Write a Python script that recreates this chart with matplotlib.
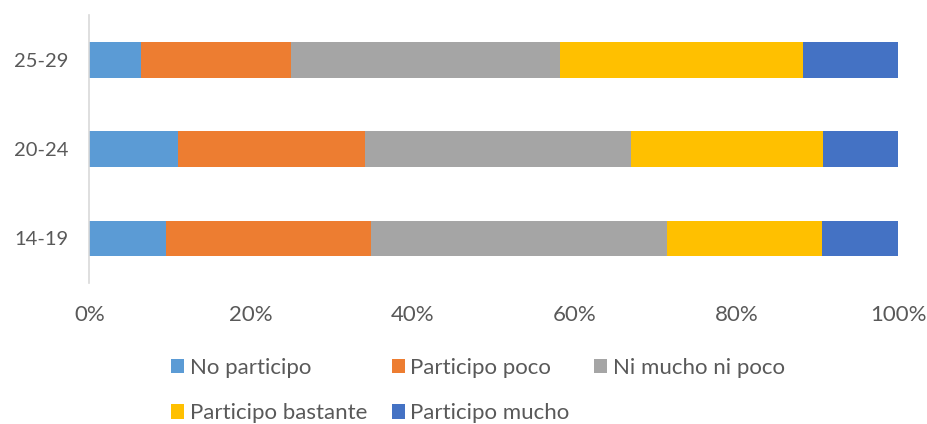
import matplotlib
matplotlib.use("Agg")
import matplotlib.pyplot as plt
import numpy as np
from matplotlib.patches import Patch

categories = ["14-19", "20-24", "25-29"]
series_names = ["No participo", "Participo poco", "Ni mucho ni poco",
                "Participo bastante", "Participo mucho"]
no_participo = [9.5, 10.9, 6.4]
participo_poco = [25.3, 23.2, 18.5]
ni_mucho_ni_poco = [36.6, 32.8, 33.3]
participo_bastante = [19.2, 23.8, 30.0]
participo_mucho = [9.4, 9.3, 11.8]
xticks = [0, 20, 40, 60, 80, 100]
xtick_labels = ["0%", "20%", "40%", "60%", "80%", "100%"]
colors = ["#5B9BD5", "#ED7D31", "#A5A5A5", "#FFC000", "#4472C4"]

plt.rcParams['font.family'] = ['Lato', 'DejaVu Sans']

fig = plt.figure(figsize=(9.28, 4.24), dpi=100)
ax = fig.add_axes([0.0964, 0.3325, 0.8718, 0.631])

data = [no_participo, participo_poco, ni_mucho_ni_poco, participo_bastante, participo_mucho]
y = np.arange(len(categories))
left = np.zeros(len(categories))
handles = []
for name, vals, c in zip(series_names, data, colors):
    ax.barh(y, vals, left=left, height=0.4, color=c, label=name)
    left += np.array(vals)
    handles.append(Patch(facecolor=c, label=name))

ax.set_xlim(0, 100)
ax.set_ylim(-0.5, 2.5)
ax.set_yticks(y)
ax.set_yticklabels(categories, fontsize=14.5, color="#595959")
ax.set_xticks(xticks)
ax.set_xticklabels(xtick_labels, fontsize=16, color="#595959")
ax.tick_params(axis='y', length=0, pad=15)
ax.tick_params(axis='x', length=0, pad=16)
for s in ["top", "right", "bottom"]:
    ax.spines[s].set_visible(False)
ax.spines["left"].set_color("#D9D9D9")
ax.spines["left"].set_linewidth(1.2)

order = [0, 3, 1, 4, 2]
leg = fig.legend([handles[i] for i in order], [series_names[i] for i in order],
                 ncol=3, loc="center", bbox_to_anchor=(0.515, 0.079),
                 frameon=False, fontsize=16, handlelength=0.6, handleheight=0.6,
                 handletextpad=0.25, columnspacing=1.1, labelspacing=1.15,
                 labelcolor="#595959")

fig.savefig("out.png", dpi=100, facecolor="white")
